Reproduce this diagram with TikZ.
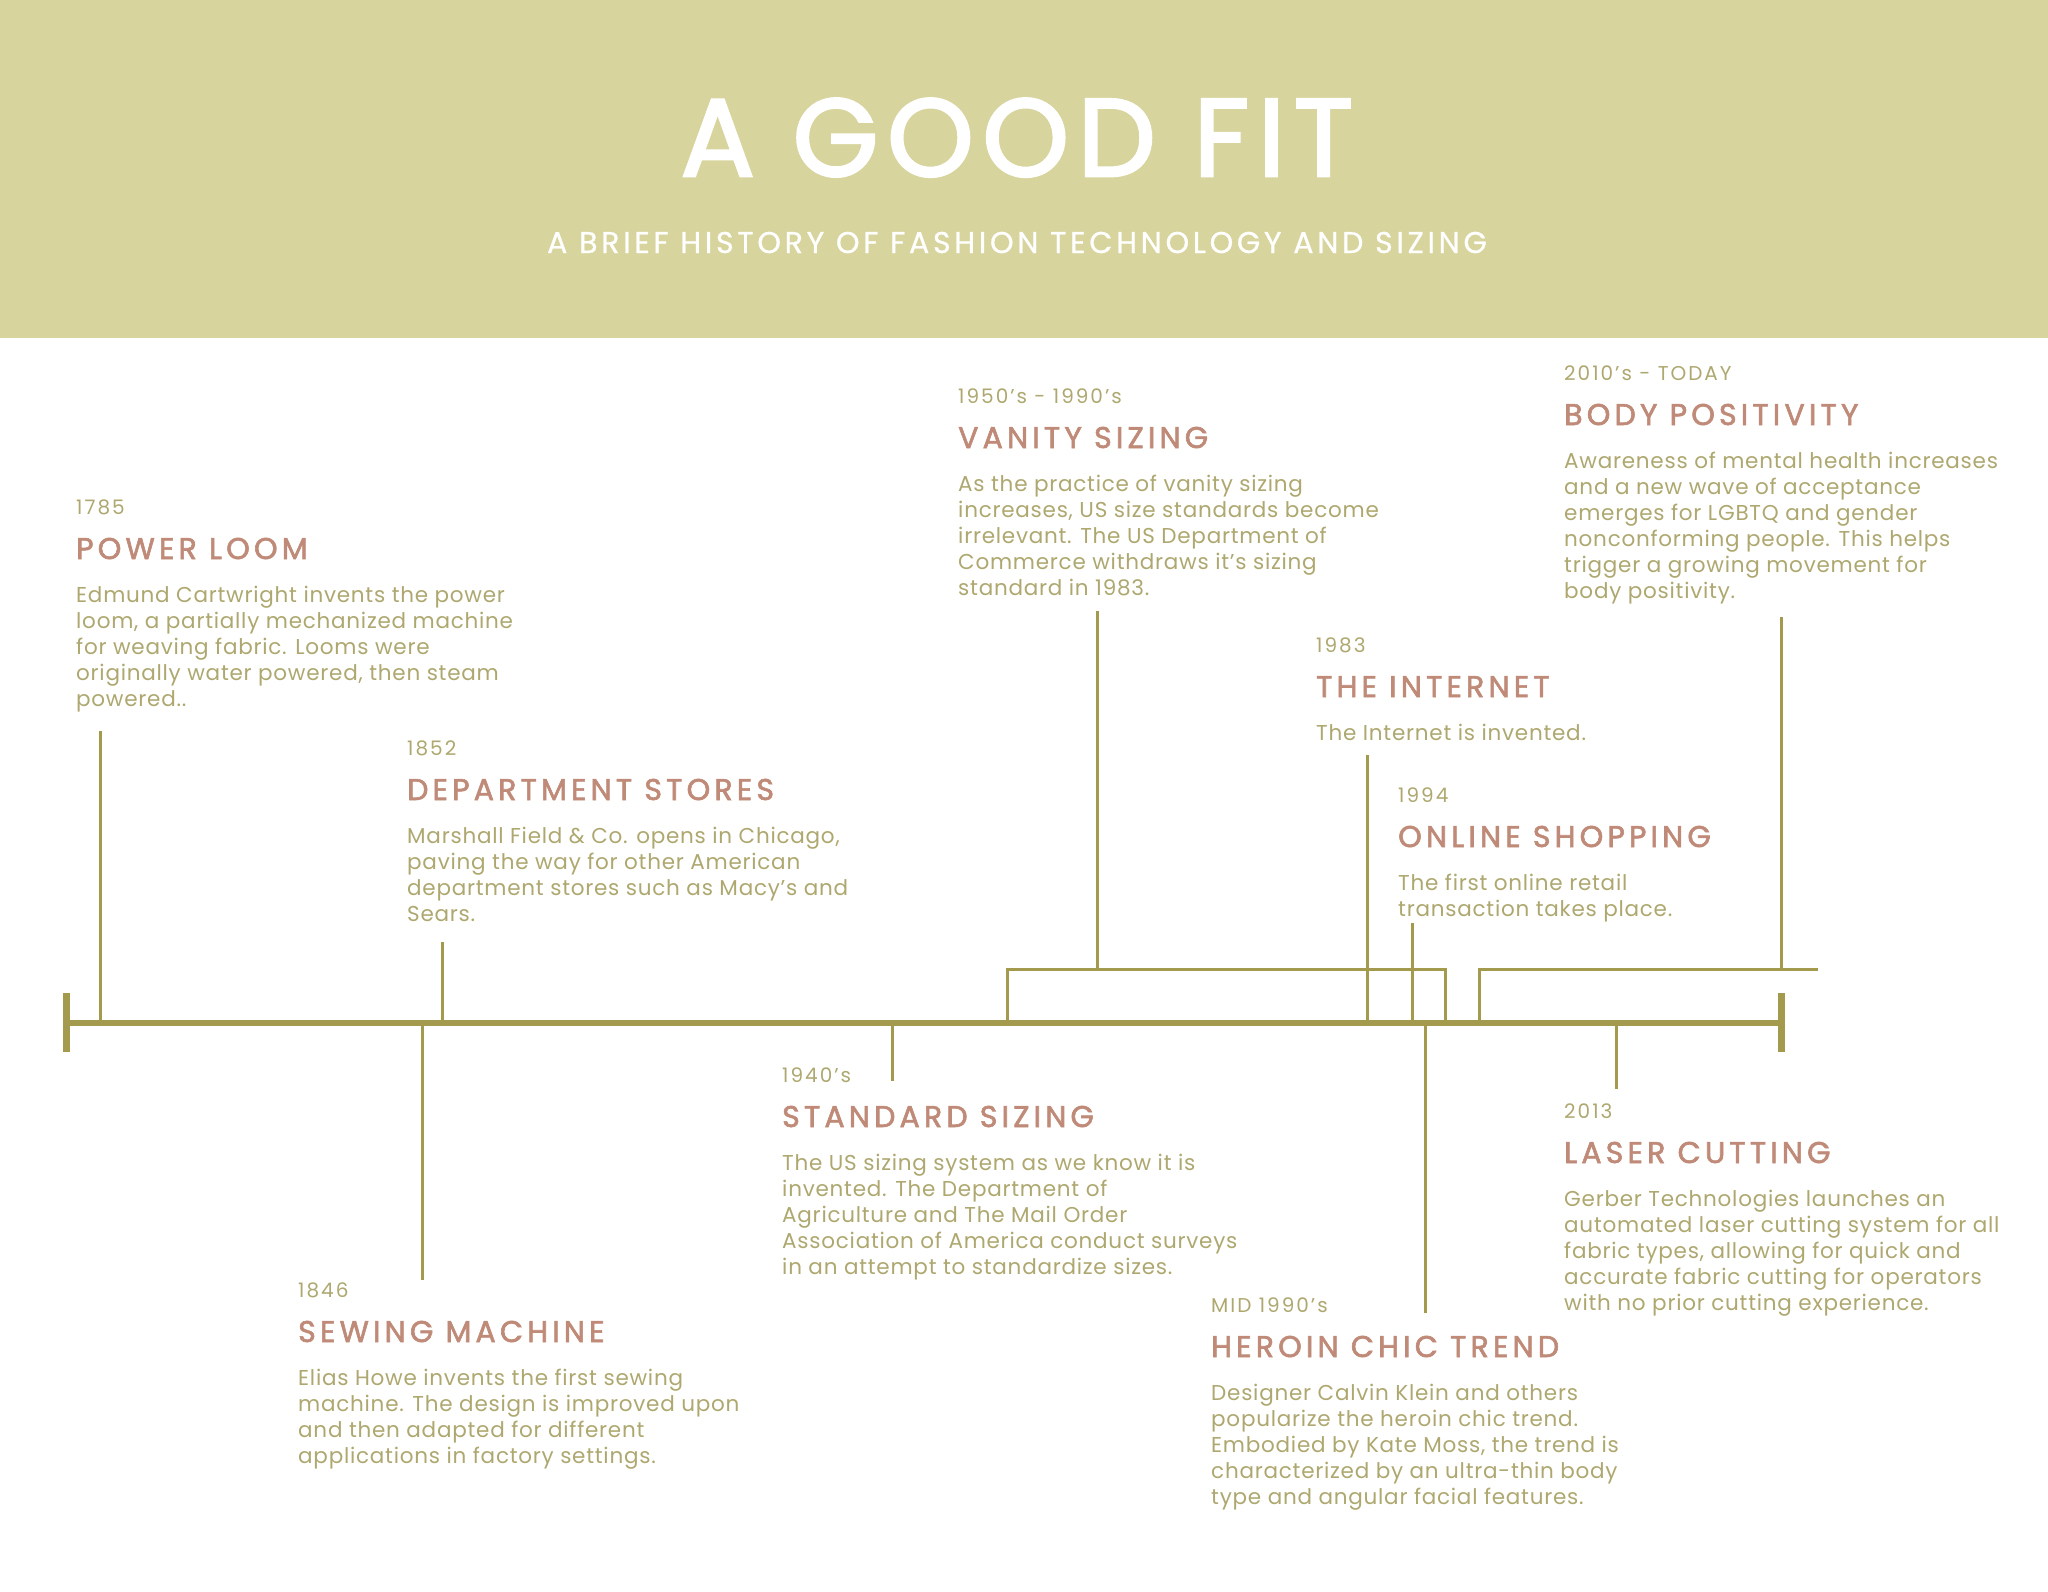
\documentclass[tikz,border=0pt]{standalone}
\usepackage{fontspec}
\setmainfont{Poppins}
\newfontfamily\bodyf[LetterSpace=3.5]{Poppins}
\newfontfamily\yearf[LetterSpace=10]{Poppins}
\newfontfamily\titlef[LetterSpace=14,FakeBold=2]{Poppins}
\newfontfamily\headf[LetterSpace=8,FakeBold=2.5]{Poppins}
\newfontfamily\subf[LetterSpace=12.5,FakeBold=0.8]{Poppins}
\definecolor{hdr}{RGB}{216,212,158}
\definecolor{lin}{RGB}{163,154,78}
\definecolor{ttl}{RGB}{192,138,120}
\definecolor{txt}{RGB}{174,168,112}
\newcommand\bl[1]{\hbox{#1}}
\newcommand\tblock[6]{%
  \node[yearst] (#1y) at (#2,#3) {#4};
  \node[titlest] (#1t) at (#2,#3+45) {#5};
  \node[bodyst] (#1b) at (#2,#3+88) {\vtop{\baselineskip=26pt\lineskip=0pt\lineskiplimit=-100pt #6}};
}
\tikzset{
  yearst/.style={anchor=base west, inner sep=0pt, text=txt, font=\yearf\fontsize{20}{24}\selectfont},
  titlest/.style={anchor=base west, inner sep=0pt, text=ttl, font=\titlef\fontsize{30}{36}\selectfont},
  bodyst/.style={anchor=base west, inner sep=0pt, text=txt, font=\bodyf\fontsize{21.5}{26}\selectfont},
  tl/.style={draw=lin, line width=6pt},
  capl/.style={draw=lin, line width=7pt},
  conn/.style={draw=lin, line width=3pt},
}
\begin{document}
\begin{tikzpicture}[x=1pt,y=-1pt]
\useasboundingbox (0,0) rectangle (2048,1592);
\fill[white] (0,0) rectangle (2048,1592);
\fill[hdr] (0,0) rectangle (2048,338);
\node[anchor=base, inner sep=0pt, text=white, font=\headf\fontsize{110}{120}\selectfont] (title) at (1017,176) {A GOOD FIT};
\node[anchor=base, inner sep=0pt, text=white, font=\subf\fontsize{30}{36}\selectfont] (subtitle) at (1017,253) {A BRIEF HISTORY OF FASHION TECHNOLOGY AND SIZING};

% timeline
\coordinate (tlL) at (63,1023);
\coordinate (tlR) at (1785,1023);
\draw[tl] (tlL) -- (tlR);
\coordinate (capLt) at (66.5,993); \coordinate (capLb) at (66.5,1052);
\coordinate (capRt) at (1781.5,993); \coordinate (capRb) at (1781.5,1052);
\draw[capl] (capLt) -- (capLb);
\draw[capl] (capRt) -- (capRb);

% text blocks
\tblock{pl}{76}{514}{1785}{POWER LOOM}{\bl{Edmund Cartwright invents the power}\bl{loom, a partially mechanized machine}\bl{for weaving fabric. Looms were}\bl{originally water powered, then steam}\bl{powered..}}
\tblock{ds}{407}{755}{1852}{DEPARTMENT STORES}{\bl{Marshall Field \& Co. opens in Chicago,}\bl{paving the way for other American}\bl{department stores such as Macy’s and}\bl{Sears.}}
\tblock{vs}{958}{403}{1950’s - 1990’s}{VANITY SIZING}{\bl{As the practice of vanity sizing}\bl{increases, US size standards become}\bl{irrelevant. The US Department of}\bl{Commerce withdraws it’s sizing}\bl{standard in 1983.}}
\tblock{bp}{1564}{380}{2010’s - TODAY}{BODY POSITIVITY}{\bl{Awareness of mental health increases}\bl{and a new wave of acceptance}\bl{emerges for LGBTQ and gender}\bl{nonconforming people. This helps}\bl{trigger a growing movement for}\bl{body positivity.}}
\tblock{in}{1316}{652}{1983}{THE INTERNET}{\bl{The Internet is invented.}}
\tblock{os}{1398}{802}{1994}{ONLINE SHOPPING}{\bl{The first online retail}\bl{transaction takes place.}}
\tblock{ss}{782}{1082}{1940’s}{STANDARD SIZING}{\bl{The US sizing system as we know it is}\bl{invented. The Department of}\bl{Agriculture and The Mail Order}\bl{Association of America conduct surveys}\bl{in an attempt to standardize sizes.}}
\tblock{sm}{298}{1297}{1846}{SEWING MACHINE}{\bl{Elias Howe invents the first sewing}\bl{machine. The design is improved upon}\bl{and then adapted for different}\bl{applications in factory settings.}}
\tblock{hc}{1211}{1312}{MID 1990’s}{HEROIN CHIC TREND}{\bl{Designer Calvin Klein and others}\bl{popularize the heroin chic trend.}\bl{Embodied by Kate Moss, the trend is}\bl{characterized by an ultra-thin body}\bl{type and angular facial features.}}
\tblock{lc}{1564}{1118}{2013}{LASER CUTTING}{\bl{Gerber Technologies launches an}\bl{automated laser cutting system for all}\bl{fabric types, allowing for quick and}\bl{accurate fabric cutting for operators}\bl{with no prior cutting experience.}}

% connectors
\coordinate (plA) at (100.5,731);  \coordinate (plB) at (100.5,1023);
\coordinate (dsA) at (442,942);    \coordinate (dsB) at (442,1023);
\coordinate (smA) at (422,1023);   \coordinate (smB) at (422,1280);
\coordinate (ssA) at (892,1023);   \coordinate (ssB) at (892,1081);
\coordinate (vsA) at (1097.5,611); \coordinate (vsB) at (1097.5,969);
\coordinate (vbL) at (1007,1023);  \coordinate (vbLt) at (1007,969);
\coordinate (vbRt) at (1445,969);  \coordinate (vbR) at (1445,1023);
\coordinate (inA) at (1367,755);   \coordinate (inB) at (1367,1023);
\coordinate (osA) at (1412,923);   \coordinate (osB) at (1412,1023);
\coordinate (hcA) at (1425,1023);  \coordinate (hcB) at (1425,1313);
\coordinate (bpA) at (1781,617);   \coordinate (bpB) at (1781,969);
\coordinate (bbL) at (1479,1023);  \coordinate (bbLt) at (1479,969);
\coordinate (bbR) at (1818,969);
\coordinate (lcA) at (1616,1023);  \coordinate (lcB) at (1616,1089);

\draw[conn] (plA) -- (plB);
\draw[conn] (dsA) -- (dsB);
\draw[conn] (smA) -- (smB);
\draw[conn] (ssA) -- (ssB);
\draw[conn] (vsA) -- (vsB);
\draw[conn] (vbL) -- (vbLt) -- (vbRt) -- (vbR);
\draw[conn] (inA) -- (inB);
\draw[conn] (osA) -- (osB);
\draw[conn] (hcA) -- (hcB);
\draw[conn] (bpA) -- (bpB);
\draw[conn] (bbL) -- (bbLt) -- (bbR);
\draw[conn] (lcA) -- (lcB);
\end{tikzpicture}
\end{document}
